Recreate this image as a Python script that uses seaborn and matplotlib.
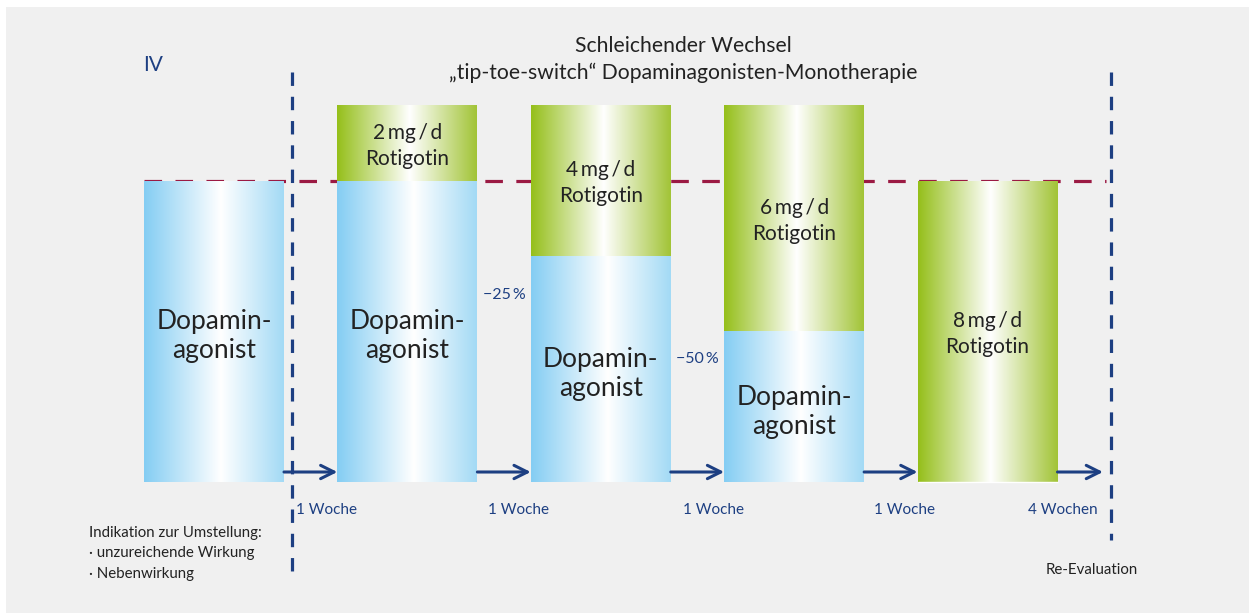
import numpy as np
import matplotlib
matplotlib.use("Agg")
import matplotlib.pyplot as plt
from matplotlib.colors import LinearSegmentedColormap
from matplotlib.patches import Rectangle
import seaborn as sns

# ----------------------------------------
# Data: tip-toe switch, 5 steps
# ----------------------------------------
steps = ["Start", "Schritt 1", "Schritt 2", "Schritt 3", "Schritt 4"]
dopamin = [100, 100, 75, 50, 0]          # % Dopaminagonist
rotigotin = [0, 25, 50, 75, 100]         # relative Rotigotin-Anteil
rotigotin_labels = ["", "2\u2009mg\u2009/\u2009d", "4\u2009mg\u2009/\u2009d",
                    "6\u2009mg\u2009/\u2009d", "8\u2009mg\u2009/\u2009d"]
durations = ["1 Woche", "1 Woche", "1 Woche", "1 Woche", "4 Wochen"]
reductions = ["\u221225\u2009%", "\u221250\u2009%"]
reduction_y = [62, 41]

totals = [d + r for d, r in zip(dopamin, rotigotin)]

sns.set_theme(style="white")
plt.rcParams["font.family"] = ["Lato", "DejaVu Sans"]

W, H = 1249, 613
NAVY = "#1d3f82"
TXT = "#222222"
RED = "#9b1a43"

fig = plt.figure(figsize=(W / 100, H / 100), dpi=100, facecolor="white")
ax = fig.add_axes([0, 0, 1, 1])
ax.set_facecolor("none")
ax.add_patch(Rectangle((6 / W, 0), 1, 1 - 7 / H, transform=fig.transFigure,
                       facecolor="#f0f0f0", edgecolor="none", zorder=-10))

# pixel -> data helpers for annotations
def dx(px):
    return (px - 214) / 193.375

def dy(py):
    return (482 - py) / 3.01

bw = 140 / 193.375

# stacked bars: green total first, blue part on top
sns.barplot(x=steps, y=totals, color="#9bc31f", width=bw, ax=ax, zorder=2)
sns.barplot(x=steps, y=dopamin, color="#8dd3f5", width=bw, ax=ax, zorder=3)

blue_cmap = LinearSegmentedColormap.from_list(
    "b", [(0, "#84cdf3"), (0.55, "#ffffff"), (1, "#a3daf5")])
green_cmap = LinearSegmentedColormap.from_list(
    "g", [(0, "#95bf1a"), (0.52, "#ffffff"), (1, "#a2c437")])
grad = np.linspace(0, 1, 256).reshape(1, -1)

n = len(steps)
bars = [p for p in ax.patches if p.get_zorder() in (2, 3)]
for k, p in enumerate(bars):
    h = p.get_height()
    if h <= 0:
        continue
    x0 = p.get_x()
    x1 = x0 + p.get_width()
    cmap = green_cmap if k < n else blue_cmap
    ax.imshow(grad, extent=[x0, x1, 0, h], aspect="auto", cmap=cmap,
              zorder=p.get_zorder() + 0.1, interpolation="bilinear")
    p.set_visible(False)

# labels inside bars
for i in range(n):
    if dopamin[i] > 0:
        ax.text(i, dopamin[i] / 2 - 1.6, "Dopamin-\nagonist", ha="center", va="center",
                fontsize=19, color=TXT, linespacing=1.2, zorder=10)
    if rotigotin[i] > 0:
        ax.text(i, dopamin[i] + rotigotin[i] / 2 - 0.8, rotigotin_labels[i] + "\nRotigotin",
                ha="center", va="center", fontsize=15, color=TXT,
                linespacing=1.38, zorder=10)

# arrows between steps and duration labels
arrow_end = [i + 1 - bw / 2 for i in range(n - 1)] + [dx(1103)]
label_x = [dx(326), dx(518), dx(713), dx(905), dx(1063)]
for i in range(n):
    ax.annotate("", xy=(arrow_end[i], dy(472)), xytext=(i + bw / 2, dy(472)),
                arrowprops=dict(arrowstyle="->", color=NAVY, lw=2.2,
                                mutation_scale=24, shrinkA=0, shrinkB=0),
                zorder=6)
    ax.text(label_x[i], dy(509.5), durations[i], ha="center", va="center",
            fontsize=11, color=NAVY)

# reductions
for k, (lab, yv) in enumerate(zip(reductions, reduction_y)):
    ax.text(1.5 + k, yv, lab, ha="center", va="center", fontsize=11.5, color=NAVY)

# reference lines (red line sits behind the bars)
ax.plot([dx(144), dx(1106)], [100, 100], color=RED, lw=2.3,
        ls=(0, (5.5, 4.2)), zorder=1.5)
ax.plot([dx(292), dx(292)], [dy(72), dy(572)], color=NAVY, lw=2.3,
        ls=(0, (4.2, 3.4)), zorder=6)
ax.plot([dx(1111), dx(1111)], [dy(72), dy(540)], color=NAVY, lw=2.3,
        ls=(0, (4.2, 3.4)), zorder=6)

# texts
ax.text(dx(683), dy(46), "Schleichender Wechsel", ha="center", va="center",
        fontsize=15.2, color=TXT)
ax.text(dx(683), dy(73), "\u201etip-toe-switch\u201c Dopaminagonisten-Monotherapie",
        ha="center", va="center", fontsize=15.2, color=TXT)
ax.text(dx(143), dy(65), "IV", ha="left", va="center", fontsize=15, color=NAVY)
ax.text(dx(89), dy(526), "Indikation zur Umstellung:\n\u00b7 unzureichende Wirkung\n\u00b7 Nebenwirkung",
        ha="left", va="top", fontsize=10.8, color=TXT, linespacing=1.58)
ax.text(dx(1046), dy(570.5), "Re-Evaluation", ha="left", va="center",
        fontsize=10.8, color=TXT)

ax.set_xlim(dx(0), dx(W))
ax.set_ylim(dy(H), dy(0))
ax.axis("off")

fig.savefig("out.png", dpi=100, facecolor="white")
